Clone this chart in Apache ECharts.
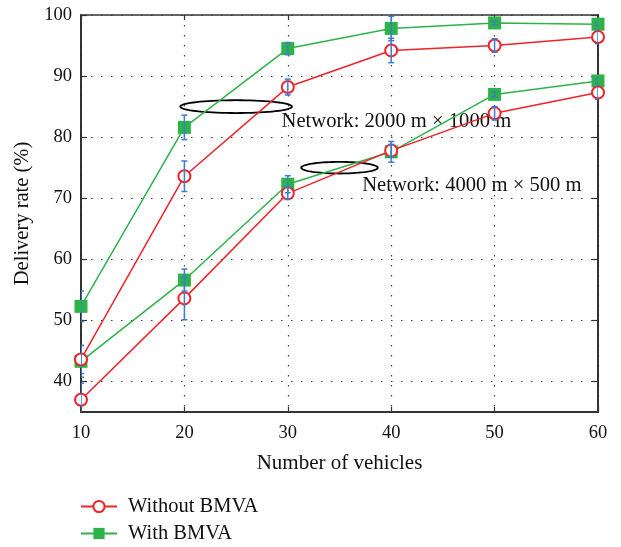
<!DOCTYPE html>
<html>
<head>
<meta charset="utf-8">
<script src="https://cdn.jsdelivr.net/npm/echarts@6/dist/echarts.min.js"></script>
<style>
html,body{margin:0;padding:0;background:#fff;}
#chart{width:621px;height:547px;}
</style>
</head>
<body>
<div id="chart"></div>
<script>
// ---- data ----
const vehicles = [10, 20, 30, 40, 50, 60];
const yTicks = [40, 50, 60, 70, 80, 90, 100];
const xTicks = [10, 20, 30, 40, 50, 60];

// Network 2000 m x 1000 m
const withBMVA_A = [52.3, 81.6, 94.5, 97.8, 98.7, 98.5];
const withoutBMVA_A = [43.6, 73.6, 88.2, 94.2, 95.0, 96.4];
const errWith_A = [2.5, 2.0, 1.0, 2.0, 0.3, 0.3];
const errWithout_A = [2.3, 2.5, 1.3, 2.0, 1.1, 1.1];

// Network 4000 m x 500 m
const withBMVA_B = [43.3, 56.6, 72.3, 77.6, 87.0, 89.2];
const withoutBMVA_B = [37.0, 53.6, 70.8, 77.8, 83.9, 87.3];
const errWith_B = [2.6, 1.8, 1.4, 1.7, 0.4, 0.4];
const errWithout_B = [2.7, 3.5, 1.0, 1.0, 1.1, 1.1];

const seriesNames = ['Without BMVA', 'With BMVA'];
const annotationTexts = ['Network: 2000 m \u00d7 1000 m', 'Network: 4000 m \u00d7 500 m'];

// ---- styles / positions ----
const RED = '#f0222a';
const GREEN = '#2db34a';
const BLUE = '#3c7bd0';
const FONT = "'Liberation Serif', 'DejaVu Serif', serif";
const annotationPos = [[29.4, 82.6], [37.2, 72.1]];
const ellipses = [ {cx: 25, cy: 85, rx: 5.4, ry: 1.05}, {cx: 35, cy: 75, rx: 3.7, ry: 0.95} ];

function pairs(vals) { return vehicles.map((x, i) => [x, vals[i]]); }
function errData(vals, errs) { return vehicles.map((x, i) => [x, vals[i] - errs[i], vals[i] + errs[i]]); }

const errItems = [].concat(
  errData(withBMVA_A, errWith_A),
  errData(withoutBMVA_A, errWithout_A),
  errData(withBMVA_B, errWith_B),
  errData(withoutBMVA_B, errWithout_B)
);

function renderErr(params, api) {
  const x = api.value(0);
  const lo = api.coord([x, api.value(1)]);
  const hi = api.coord([x, api.value(2)]);
  const w = 3;
  const st = { stroke: BLUE, lineWidth: 1.5 };
  return {
    type: 'group',
    children: [
      { type: 'line', shape: { x1: lo[0], y1: lo[1], x2: hi[0], y2: hi[1] }, style: st },
      { type: 'line', shape: { x1: lo[0] - w, y1: lo[1], x2: lo[0] + w, y2: lo[1] }, style: st },
      { type: 'line', shape: { x1: hi[0] - w, y1: hi[1], x2: hi[0] + w, y2: hi[1] }, style: st }
    ]
  };
}

function renderEllipse(params, api) {
  const c = api.coord([api.value(0), api.value(1)]);
  const s = api.size([api.value(2), api.value(3)]);
  const pts = [];
  for (let k = 0; k <= 72; k++) {
    const t = k / 72 * Math.PI * 2;
    pts.push([c[0] + s[0] * Math.cos(t), c[1] + s[1] * Math.sin(t)]);
  }
  return { type: 'polygon', shape: { points: pts }, style: { fill: 'none', stroke: '#000', lineWidth: 1.8 } };
}

function renderText(params, api) {
  const c = api.coord([api.value(0), api.value(1)]);
  return {
    type: 'text',
    x: c[0], y: c[1],
    style: { text: annotationTexts[params.dataIndex], font: "20.6px " + FONT, fill: '#111', textAlign: 'left', textVerticalAlign: 'middle' }
  };
}

const gridLine = { show: true, lineStyle: { color: '#444', width: 1.2, type: [1.5, 8.5] } };
const axisLineStyle = { show: true, lineStyle: { color: '#333', width: 2 } };

const chart = echarts.init(document.getElementById('chart'), null, { renderer: 'canvas' });
chart.setOption({
  animation: false,
  backgroundColor: '#fff',
  grid: { left: 81, right: 23, top: 15, bottom: 135, containLabel: false },
  legend: {
    data: seriesNames,
    orient: 'vertical',
    left: 80,
    top: 496,
    padding: 0,
    height: 60,
    itemWidth: 36,
    itemHeight: 14,
    itemGap: 6,
    textStyle: { fontFamily: FONT, fontSize: 20.5, color: '#111', lineHeight: 20, padding: [0, 0, 0, 6] }
  },
  xAxis: [
    {
      type: 'value', min: 10, max: 60, interval: 10,
      name: 'Number of vehicles', nameLocation: 'middle', nameGap: 41,
      nameTextStyle: { fontFamily: FONT, fontSize: 21, color: '#111' },
      axisLine: axisLineStyle,
      axisTick: { show: true, inside: true, length: 5, lineStyle: { color: '#333', width: 1.2 } },
      axisLabel: { fontFamily: FONT, fontSize: 18.5, color: '#111', margin: 12 },
      splitLine: gridLine
    },
    {
      type: 'value', min: 10, max: 60, interval: 10, position: 'top',
      axisLine: { show: true, lineStyle: { color: '#333', width: 1.5 } },
      axisTick: { show: true, inside: true, length: 5, lineStyle: { color: '#333', width: 1.2 } },
      axisLabel: { show: false }, splitLine: { show: false }
    }
  ],
  yAxis: [
    {
      type: 'value', min: 35, max: 100,
      name: 'Delivery rate (%)', nameLocation: 'middle', nameGap: 46,
      nameTextStyle: { fontFamily: FONT, fontSize: 20.5, color: '#111' },
      axisLine: axisLineStyle,
      axisTick: { show: true, inside: true, length: 6, customValues: yTicks, lineStyle: { color: '#333', width: 1.2 } },
      axisLabel: { fontFamily: FONT, fontSize: 18.5, color: '#111', margin: 9, customValues: yTicks },
      splitLine: gridLine
    },
    {
      type: 'value', min: 35, max: 100, position: 'right',
      axisLine: { show: true, lineStyle: { color: '#333', width: 2 } },
      axisTick: { show: true, inside: true, length: 6, customValues: yTicks, lineStyle: { color: '#333', width: 1.2 } },
      axisLabel: { show: false }, splitLine: { show: false }
    }
  ],
  series: [
    {
      type: 'custom', name: 'ellipses', renderItem: renderEllipse, silent: true, z: 3,
      data: ellipses.map(e => [e.cx, e.cy, e.rx, e.ry])
    },
    {
      type: 'custom', name: 'labels', renderItem: renderText, silent: true, z: 3,
      data: annotationPos
    },
    {
      name: seriesNames[1], type: 'line', data: pairs(withBMVA_A), z: 4,
      symbol: 'rect', symbolSize: 13, showAllSymbol: true,
      lineStyle: { color: GREEN, width: 1.5 }, itemStyle: { color: GREEN, borderWidth: 0 }
    },
    {
      name: seriesNames[1], type: 'line', data: pairs(withBMVA_B), z: 4,
      symbol: 'rect', symbolSize: 13,
      lineStyle: { color: GREEN, width: 1.5 }, itemStyle: { color: GREEN, borderWidth: 0 }
    },
    {
      name: seriesNames[0], type: 'line', data: pairs(withoutBMVA_A), z: 5,
      symbol: 'emptyCircle', symbolSize: 12,
      lineStyle: { color: RED, width: 1.5 }, itemStyle: { color: RED, borderColor: RED, borderWidth: 1.5 }
    },
    {
      name: seriesNames[0], type: 'line', data: pairs(withoutBMVA_B), z: 5,
      symbol: 'emptyCircle', symbolSize: 12,
      lineStyle: { color: RED, width: 1.5 }, itemStyle: { color: RED, borderColor: RED, borderWidth: 1.5 }
    },
    {
      type: 'custom', name: 'errors', renderItem: renderErr, silent: true, z: 6, clip: true,
      encode: { x: 0, y: [1, 2] },
      data: errItems
    }
  ]
});
</script>
</body>
</html>
